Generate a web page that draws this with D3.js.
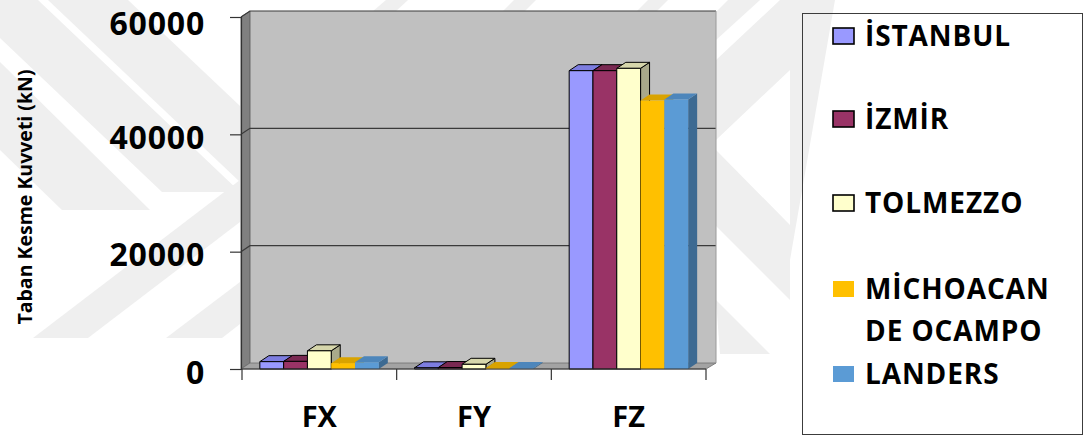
<!DOCTYPE html>
<html>
<head>
<meta charset="utf-8">
<script src="https://cdn.jsdelivr.net/npm/d3@7"></script>
<style>
  html, body { margin: 0; padding: 0; background: #ffffff; }
  svg { display: block; }
  text { font-family: "Open Sans", "Liberation Sans", sans-serif; font-weight: 700; fill: #000; }
</style>
</head>
<body>
<svg id="chart" width="1085" height="437"></svg>
<script>
// Base shear forces (kN) per direction, one array per earthquake record
const categories = ["FX", "FY", "FZ"];
const seriesNames = ["İSTANBUL", "İZMİR", "TOLMEZZO", "MİCHOACAN DE OCAMPO", "LANDERS"];
const istanbul  = [1250, 200, 50850];
const izmir     = [1300, 250, 50850];
const tolmezzo  = [3100, 800, 51250];
const michoacan = [1000, 150, 45750];
const landers   = [1150, 150, 45950];
const yTicks = [0, 20000, 40000, 60000];
const yTitle = "Taban Kesme Kuvveti (kN)";

const seriesValues = [istanbul, izmir, tolmezzo, michoacan, landers];

// face colours: front, top, side; outlined marks use a black edge
const palette = [
  { front: "#9999FF", top: "#7d7de0", side: "#6a6ac0", outline: true },
  { front: "#993366", top: "#7a2952", side: "#662244", outline: true },
  { front: "#FFFFCC", top: "#d6d6ab", side: "#a9a98a", outline: true },
  { front: "#FFC000", top: "#d9a300", side: "#b38600", outline: false },
  { front: "#5B9BD5", top: "#4d86bb", side: "#3d6a92", outline: false }
];

const svg = d3.select("#chart");

// faint background emblem
const wm = svg.append("g").attr("fill", "#efefef");
const wmShapes = [
  [[-40, 0], [38, 0], [240, 192], [162, 192]],
  [[48, 0], [128, 0], [240, 106], [240, 182]],
  [[0, 62], [0, 150], [62, 210], [150, 210]],
  [[33, 338], [88, 338], [240, 222], [240, 180]],
  [[166, 338], [222, 338], [240, 324], [240, 282]],
  [[372, 12], [386, 0], [408, 0], [395, 12]],
  [[502, 12], [514, 0], [536, 0], [524, 12]],
  [[636, 12], [648, 0], [668, 0], [656, 12]],
  [[716, 12], [728, 0], [760, 0], [716, 40]],
  [[716, 60], [780, 0], [835, 0], [790, 260], [790, 70], [716, 140]],
  [[716, 150], [790, 225], [790, 300], [716, 226]],
  [[716, 300], [770, 354], [720, 354]]
];
wm.selectAll("polygon").data(wmShapes).join("polygon")
  .attr("points", d => d.map(p => p.join(",")).join(" "));

// plot geometry
const plot = { left: 242, right: 706, top: 17, bottom: 369 };
const depth = { dx: 9, dy: -6 };

const x = d3.scaleBand().domain(categories).range([plot.left, plot.right]);
const x1 = d3.scaleBand().domain(seriesNames).range([0, x.bandwidth()])
  .paddingInner(0).paddingOuter(0.75);
const y = d3.scaleLinear().domain([0, 60000]).range([plot.bottom, plot.top]);

const pts = arr => arr.map(p => p.join(",")).join(" ");
const axisL = plot.left - 1;

// back wall
svg.append("polygon")
  .attr("points", pts([
    [axisL + depth.dx, y(60000) + depth.dy], [plot.right + depth.dx + 1, y(60000) + depth.dy],
    [plot.right + depth.dx + 1, y(0) + depth.dy], [axisL + depth.dx, y(0) + depth.dy]
  ]))
  .attr("fill", "#c0c0c0");

// left side wall
svg.append("polygon")
  .attr("points", pts([
    [axisL, y(60000)], [axisL + depth.dx, y(60000) + depth.dy],
    [axisL + depth.dx, y(0) + depth.dy], [axisL, y(0)]
  ]))
  .attr("fill", "#808080").attr("stroke", "#555").attr("stroke-width", 0.8);

// floor
svg.append("polygon")
  .attr("points", pts([
    [axisL, y(0)], [axisL + depth.dx, y(0) + depth.dy],
    [plot.right + depth.dx + 1, y(0) + depth.dy], [plot.right, y(0)]
  ]))
  .attr("fill", "#a3a3a3").attr("stroke", "#6e6e6e").attr("stroke-width", 0.8);

// gridlines on the walls
const grid = svg.append("g").attr("stroke", "#3a3a3a").attr("stroke-width", 1.2).attr("fill", "none");
yTicks.filter(t => t > 0).forEach(t => {
  grid.append("polyline").attr("points", pts([
    [axisL, y(t)], [axisL + depth.dx, y(t) + depth.dy], [plot.right + depth.dx + 1, y(t) + depth.dy]
  ]));
});
svg.append("line")
  .attr("x1", plot.right + depth.dx + 1).attr("x2", plot.right + depth.dx + 1)
  .attr("y1", y(60000) + depth.dy).attr("y2", y(0) + depth.dy)
  .attr("stroke", "#9a9a9a").attr("stroke-width", 1);

// bars
const bars = svg.append("g");
categories.forEach((cat, ci) => {
  seriesNames.forEach((name, si) => {
    const v = seriesValues[si][ci];
    const c = palette[si];
    const x0 = x(cat) + x1(name);
    const w = x1.bandwidth();
    const yt = y(v), yb = y(0);
    const g = bars.append("g")
      .attr("stroke", c.outline ? "#000" : "none")
      .attr("stroke-width", c.outline ? 1 : 0)
      .attr("stroke-linejoin", "round");
    g.append("polygon").attr("fill", c.side).attr("points", pts([
      [x0 + w, yt], [x0 + w + depth.dx, yt + depth.dy], [x0 + w + depth.dx, yb + depth.dy], [x0 + w, yb]
    ]));
    g.append("polygon").attr("fill", c.top).attr("points", pts([
      [x0, yt], [x0 + depth.dx, yt + depth.dy], [x0 + w + depth.dx, yt + depth.dy], [x0 + w, yt]
    ]));
    g.append("rect").attr("fill", c.front)
      .attr("x", x0).attr("y", yt).attr("width", w).attr("height", Math.max(0, yb - yt));
  });
});

// value axis
const yAxis = svg.append("g")
  .attr("transform", `translate(${axisL},0)`)
  .call(d3.axisLeft(y).tickValues(yTicks).tickSize(11).tickPadding(25).tickFormat(d3.format("d")));
yAxis.select(".domain").attr("stroke", "#333").attr("stroke-width", 1.2);
yAxis.selectAll(".tick line").attr("stroke", "#333").attr("stroke-width", 1.2);
yAxis.selectAll(".tick text")
  .style("font-family", '"Open Sans", sans-serif').style("font-weight", 700)
  .style("font-size", "32px").attr("letter-spacing", "0.8px").attr("dy", "0.44em").attr("fill", "#000");
// keep the topmost label's text box inside the canvas
yAxis.selectAll(".tick").each(function () {
  const txt = d3.select(this).select("text");
  const b = txt.node().getBBox();
  const ctm = this.transform.baseVal.consolidate();
  const ty = ctm ? ctm.matrix.f : 0;
  const over = -(ty + b.y);
  if (over > 0) txt.attr("y", over + 0.5);
});

// category axis: boundary ticks plus centred labels
const xAxis = svg.append("g").attr("transform", `translate(0,${y(0)})`);
xAxis.append("line").attr("x1", axisL).attr("x2", plot.right).attr("y1", 0).attr("y2", 0)
  .attr("stroke", "#333").attr("stroke-width", 1.2);
const bounds = categories.map(c => x(c)).concat([x(categories[categories.length - 1]) + x.bandwidth()]);
xAxis.selectAll("line.tk").data(bounds).join("line").attr("class", "tk")
  .attr("x1", d => d).attr("x2", d => d).attr("y1", 0).attr("y2", 11)
  .attr("stroke", "#333").attr("stroke-width", 1.2);
xAxis.selectAll("text").data(categories).join("text")
  .attr("x", d => x(d) + x.bandwidth() / 2).attr("y", 58)
  .attr("text-anchor", "middle").style("font-size", "29px").text(d => d);

// axis title
svg.append("text")
  .attr("transform", `translate(32,197) rotate(-90)`)
  .attr("text-anchor", "middle").style("font-size", "19.5px").text(yTitle);

// legend
const legend = svg.append("g");
legend.append("rect").attr("x", 802.5).attr("y", 13.5).attr("width", 280).attr("height", 421)
  .attr("fill", "none").attr("stroke", "#3c3c3c").attr("stroke-width", 1);
const legendY = [36, 119, 203, 289, 374];
seriesNames.forEach((name, i) => {
  const c = palette[i];
  const cy = legendY[i];
  legend.append("rect").attr("x", 833).attr("y", cy - 8).attr("width", 21).attr("height", 16)
    .attr("fill", c.front)
    .attr("stroke", c.outline ? "#000" : "none").attr("stroke-width", c.outline ? 1.6 : 0);
  const t = legend.append("text").attr("x", 865).attr("y", cy + 10)
    .style("font-size", "28px").attr("letter-spacing", "0.9px");
  // wrap long names onto a second line
  const words = name.split(" ");
  let line = [];
  let tspan = t.append("tspan").attr("x", 865).attr("dy", 0);
  words.forEach(wd => {
    line.push(wd);
    tspan.text(line.join(" "));
    if (tspan.node().getComputedTextLength() > 205 && line.length > 1) {
      line.pop();
      tspan.text(line.join(" "));
      line = [wd];
      tspan = t.append("tspan").attr("x", 865).attr("dy", 42).text(wd);
    }
  });
});
</script>
</body>
</html>
